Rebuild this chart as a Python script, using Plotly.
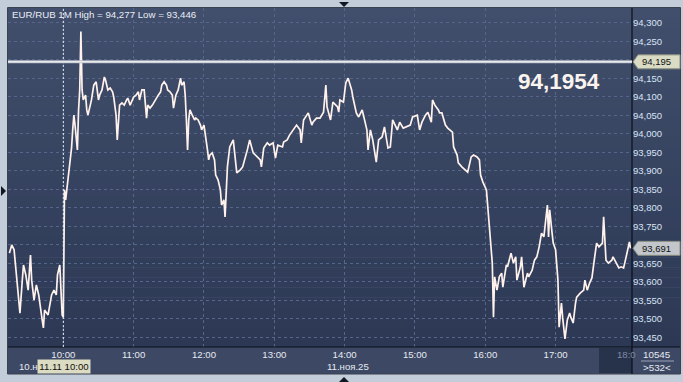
import plotly.graph_objects as go

# ---------------- data ----------------
DAY = "2025-11-11"
times = ["09:14","09:16","09:18","09:20","09:21","09:23","09:25","09:26","09:28","09:30",
         "09:32","09:33","09:35","09:37","09:39","09:40","09:42","09:43","09:44","09:47",
         "09:49","09:50","09:52","09:54","09:55","09:57","09:58","09:59","10:00","10:01",
         "10:02","10:04","10:06","10:07","10:08","10:09","10:10","10:11","10:12","10:13",
         "10:14","10:15","10:16","10:17","10:19","10:20","10:21","10:23","10:24","10:26",
         "10:28","10:30","10:31","10:33","10:35","10:36","10:38","10:40","10:42","10:43",
         "10:45","10:46","10:47","10:48","10:50","10:52","10:54","10:55","10:57","10:59",
         "11:00","11:02","11:04","11:05","11:07","11:09","11:11","11:12","11:14","11:16",
         "11:17","11:19","11:21","11:23","11:24","11:26","11:28","11:29","11:31","11:33",
         "11:34","11:36","11:38","11:40","11:41","11:43","11:44","11:45","11:46","11:47",
         "11:48","11:50","11:52","11:53","11:55","11:57","11:58","12:00","12:02","12:03",
         "12:04","12:05","12:07","12:09","12:10","12:12","12:14","12:15","12:17","12:18",
         "12:20","12:22","12:25","12:26","12:28","12:31","12:33","12:37","12:39","12:42",
         "12:45","12:48","12:49","12:51","12:54","12:56","12:59","13:01","13:03","13:07",
         "13:08","13:11","13:13","13:16","13:19","13:22","13:23","13:25","13:28","13:29",
         "13:32","13:33","13:36","13:39","13:42","13:44","13:45","13:48","13:50","13:54",
         "13:55","13:56","13:59","14:01","14:03","14:05","14:06","14:07","14:10","14:12",
         "14:15","14:17","14:19","14:20","14:22","14:24","14:27","14:29","14:32","14:34",
         "14:37","14:39","14:41","14:45","14:47","14:50","14:53","14:56","14:58","15:02",
         "15:04","15:06","15:09","15:11","15:14","15:15","15:17","15:20","15:21","15:23",
         "15:26","15:28","15:32","15:33","15:36","15:37","15:40","15:43","15:45","15:48",
         "15:50","15:53","15:55","15:56","15:58","16:01","16:02","16:03","16:04","16:06",
         "16:07","16:08","16:10","16:12","16:14","16:15","16:18","16:19","16:22","16:24",
         "16:26","16:27","16:30","16:31","16:33","16:36","16:37","16:40","16:42","16:44",
         "16:46","16:48","16:50","16:53","16:54","16:55","16:57","16:58","17:00","17:02",
         "17:03","17:05","17:06","17:08","17:10","17:12","17:13","17:15","17:17","17:18",
         "17:21","17:24","17:25","17:27","17:29","17:31","17:33","17:35","17:37","17:40",
         "17:41","17:42","17:43","17:45","17:48","17:49","17:52","17:54","17:56","17:58",
         "17:59","18:01","18:03","18:04"]
prices = [93.678,93.700,93.687,93.619,93.578,93.516,93.605,93.646,93.619,93.578,
          93.673,93.605,93.551,93.592,93.565,93.538,93.497,93.476,93.524,93.511,
          93.551,93.565,93.578,93.565,93.619,93.646,93.578,93.511,93.505,93.849,
          93.822,93.876,93.930,93.962,94.011,94.051,94.024,93.984,93.957,94.065,
          94.119,94.277,94.119,94.092,94.105,94.065,94.051,94.078,94.092,94.132,
          94.141,94.092,94.105,94.119,94.154,94.146,94.119,94.124,94.114,94.100,
          94.051,93.984,94.038,94.078,94.084,94.078,94.092,94.097,94.078,94.092,
          94.100,94.105,94.114,94.092,94.119,94.119,94.043,94.078,94.070,94.078,
          94.084,94.092,94.105,94.114,94.132,94.141,94.132,94.119,94.114,94.105,
          94.070,94.105,94.119,94.151,94.132,94.141,94.105,94.038,93.957,94.038,
          94.065,94.051,94.038,94.043,94.038,94.024,94.011,94.024,93.984,93.957,
          93.930,93.943,93.949,93.930,93.889,93.876,93.849,93.808,93.822,93.776,
          93.911,93.965,93.984,93.957,93.895,93.903,93.911,93.957,93.984,93.949,
          93.938,93.930,93.911,93.962,93.976,93.970,93.976,93.935,93.970,93.965,
          93.978,93.984,93.997,94.011,94.024,94.011,93.976,94.038,94.051,94.057,
          94.024,94.032,94.043,94.043,94.059,94.132,94.073,94.038,94.086,94.073,
          94.059,94.092,94.086,94.138,94.151,94.132,94.119,94.100,94.057,94.046,
          94.065,94.038,94.011,93.957,94.011,93.984,93.924,93.984,93.992,94.019,
          93.962,93.965,94.038,94.011,94.032,94.016,94.019,94.024,94.046,94.051,
          94.011,94.032,94.051,94.059,94.032,94.092,94.078,94.065,94.057,94.057,
          94.024,94.016,94.005,93.965,93.943,93.922,93.911,93.903,93.897,93.938,
          93.943,93.938,93.930,93.889,93.870,93.849,93.808,93.781,93.722,93.651,
          93.505,93.614,93.578,93.614,93.624,93.586,93.646,93.641,93.678,93.651,
          93.668,93.605,93.641,93.668,93.586,93.624,93.614,93.632,93.659,93.668,
          93.695,93.732,93.722,93.808,93.722,93.795,93.732,93.705,93.687,93.605,
          93.478,93.543,93.505,93.446,93.497,93.516,93.505,93.489,93.543,93.559,
          93.570,93.578,93.605,93.578,93.597,93.611,93.659,93.705,93.695,93.705,
          93.776,93.722,93.659,93.651,93.659,93.668,93.651,93.638,93.641,93.638,
          93.651,93.678,93.708,93.691]

y_ticks = [93.45, 93.50, 93.55, 93.60, 93.65, 93.70, 93.75, 93.80, 93.85, 93.90,
           93.95, 94.00, 94.05, 94.10, 94.15, 94.20, 94.25, 94.30]
hidden_ticks = [93.70, 94.20]   # covered by price tags in the reference
hour_ticks = ["10:00", "11:00", "12:00", "13:00", "14:00", "15:00", "16:00", "17:00"]
title_text = "EUR/RUB 1M High = 94,277 Low = 93,446"
level_price = 94.195
big_price = "94,1954"
last_price = 93.691
cursor_time = "10:00"

x_vals = [f"{DAY} {t}" for t in times]
y_ticktext = ["" if any(abs(v - h) < 1e-9 for h in hidden_ticks)
              else f"{v:.3f}".replace(".", ",") for v in y_ticks]

# ---------------- geometry helpers (pixels -> paper) ----------------
W, H = 683, 382
L, R, T, B = 8, 632, 8, 347
def px(x):
    return (x - L) / (R - L)
def py(y):
    return (B - y) / (B - T)

FONT = "Liberation Sans"

fig = go.Figure()
fig.add_trace(go.Scatter(x=x_vals, y=prices, mode="lines",
                         line=dict(color="#fff1ec", width=1.7),
                         hoverinfo="skip", showlegend=False))

shapes = []
# dark panel gradient (main + right axis)
top_c = (0x41, 0x4f, 0x6c)
bot_c = (0x2c, 0x38, 0x54)
n = 34
for i in range(n):
    y0 = T + (B - T) * i / n
    y1 = T + (B - T) * (i + 1) / n + 0.6
    f = (i + 0.5) / n
    c = tuple(int(round(top_c[k] + (bot_c[k] - top_c[k]) * f)) for k in range(3))
    shapes.append(dict(type="rect", xref="paper", yref="paper", layer="below",
                       x0=px(L), x1=px(680), y0=py(y1), y1=py(y0),
                       line=dict(width=0), fillcolor="rgb(%d,%d,%d)" % c))
# bottom axis panel
shapes.append(dict(type="rect", xref="paper", yref="paper", layer="below",
                   x0=px(L), x1=px(680), y0=py(374), y1=py(B),
                   line=dict(width=0), fillcolor="#3d4964"))
# dark box at right of time axis
shapes.append(dict(type="rect", xref="paper", yref="paper", layer="below",
                   x0=px(599), x1=px(R), y0=py(373), y1=py(B + 1),
                   line=dict(width=0), fillcolor="#27334b"))
# panel border
shapes.append(dict(type="rect", xref="paper", yref="paper", layer="above",
                   x0=px(7.5), x1=px(680.5), y0=py(374), y1=py(7.5),
                   line=dict(width=1, color="#3a4150"), fillcolor="rgba(0,0,0,0)"))
# black separators
shapes.append(dict(type="line", xref="paper", yref="paper", layer="above",
                   x0=px(L), x1=px(680), y0=py(B), y1=py(B),
                   line=dict(width=1.2, color="#0b0f18")))
shapes.append(dict(type="line", xref="paper", yref="paper", layer="above",
                   x0=px(R), x1=px(R), y0=py(374), y1=py(T),
                   line=dict(width=1.2, color="#0b0f18")))
# separator in bottom-right box
shapes.append(dict(type="line", xref="paper", yref="paper", layer="above",
                   x0=px(641), x1=px(674), y0=py(361), y1=py(361),
                   line=dict(width=1, color="#9aa4b8")))
# vertical cursor at 10:00
shapes.append(dict(type="line", xref="x", yref="paper", layer="above",
                   x0=f"{DAY} {cursor_time}", x1=f"{DAY} {cursor_time}", y0=0, y1=1,
                   line=dict(width=1, color="#e8ecf4", dash="2px,2px")))
# horizontal level line
shapes.append(dict(type="line", xref="paper", yref="y", layer="above",
                   x0=0, x1=1, y0=level_price, y1=level_price,
                   line=dict(width=3, color="#b9bec8")))
shapes.append(dict(type="line", xref="paper", yref="y", layer="above",
                   x0=0, x1=1, y0=level_price, y1=level_price,
                   line=dict(width=1, color="#ffffff")))

# price tag boxes on right axis (pentagon pointing left)
def tag(yval, color):
    hh = 7 * 0.05 / 18.5
    x_tip, x_a, x_b = px(633), px(638), px(680)
    return dict(type="path", xref="paper", yref="y", layer="above",
                path=f"M {x_tip},{yval} L {x_a},{yval + hh} L {x_b},{yval + hh} "
                     f"L {x_b},{yval - hh} L {x_a},{yval - hh} Z",
                fillcolor=color, line=dict(width=1, color="#8a8e80"))
shapes.append(tag(level_price, "#d9dbc4"))
shapes.append(tag(last_price, "#c3c7cc"))

# triangles on the frame
shapes.append(dict(type="path", xref="paper", yref="paper", layer="above",
                   path=f"M {px(339)},{py(2)} L {px(349)},{py(2)} L {px(344)},{py(7)} Z",
                   fillcolor="#111722", line=dict(width=0)))
shapes.append(dict(type="path", xref="paper", yref="paper", layer="above",
                   path=f"M {px(339)},{py(382)} L {px(349)},{py(382)} L {px(344)},{py(377)} Z",
                   fillcolor="#111722", line=dict(width=0)))
shapes.append(dict(type="path", xref="paper", yref="paper", layer="above",
                   path=f"M {px(1)},{py(186)} L {px(1)},{py(196)} L {px(6)},{py(191)} Z",
                   fillcolor="#111722", line=dict(width=0)))

annotations = [
    dict(text=title_text, xref="paper", yref="paper", x=px(10), y=py(15),
         xanchor="left", yanchor="middle", showarrow=False,
         font=dict(family=FONT, size=9.7, color="#e9edf5")),
    dict(text=f"<b>{big_price}</b>", xref="paper", yref="paper", x=px(559), y=py(81),
         xanchor="center", yanchor="middle", showarrow=False,
         font=dict(family=FONT, size=22.5, color="#fbf3ee")),
    dict(text=f"{level_price:.3f}".replace(".", ","), xref="paper", yref="y",
         x=px(640), y=level_price, xanchor="left", yanchor="middle", showarrow=False,
         font=dict(family=FONT, size=9.5, color="#111111")),
    dict(text=f"{last_price:.3f}".replace(".", ","), xref="paper", yref="y",
         x=px(640), y=last_price, xanchor="left", yanchor="middle", showarrow=False,
         font=dict(family=FONT, size=9.5, color="#111111")),
    dict(text="10.н", xref="paper", yref="paper", x=px(17), y=py(366),
         xanchor="left", yanchor="middle", showarrow=False,
         font=dict(family=FONT, size=9.6, color="#e6eaf2")),
    dict(text="11.11 10:00", xref="paper", yref="paper", x=px(63.5), y=py(366),
         xanchor="center", yanchor="middle", showarrow=False,
         bgcolor="#dcdcc2", borderpad=1, width=50,
         font=dict(family=FONT, size=9.6, color="#111111")),
    dict(text="11.ноя.25", xref="paper", yref="paper", x=px(348), y=py(366),
         xanchor="center", yanchor="middle", showarrow=False,
         font=dict(family=FONT, size=9.6, color="#e6eaf2")),
    dict(text="18:0", xref="paper", yref="paper", x=px(615), y=py(355),
         xanchor="left", yanchor="middle", showarrow=False,
         font=dict(family=FONT, size=9.6, color="#7e8aa2")),
    dict(text="10545", xref="paper", yref="paper", x=px(657), y=py(354),
         xanchor="center", yanchor="middle", showarrow=False,
         font=dict(family=FONT, size=9.8, color="#e6eaf2")),
    dict(text="&gt;532&lt;", xref="paper", yref="paper", x=px(657), y=py(367),
         xanchor="center", yanchor="middle", showarrow=False,
         font=dict(family=FONT, size=9.8, color="#e6eaf2")),
]

fig.update_layout(
    width=W, height=H,
    margin=dict(l=L, r=W - R, t=T, b=H - B, pad=0),
    paper_bgcolor="#c3ccd9",
    plot_bgcolor="rgba(0,0,0,0)",
    separators=",.",
    showlegend=False,
    shapes=shapes,
    annotations=annotations,
    xaxis=dict(
        type="date",
        range=[f"{DAY} 09:12:48", f"{DAY} 18:05:12"],
        tickvals=[f"{DAY} {t}" for t in hour_ticks],
        ticktext=hour_ticks,
        showgrid=True, gridcolor="#56668a", griddash="3px,3px", gridwidth=1,
        zeroline=False, showline=False, ticks="",
        tickfont=dict(family=FONT, size=9.6, color="#e6eaf2"),
        fixedrange=True,
    ),
    yaxis=dict(
        side="right",
        range=[93.4243, 94.3405],
        tickvals=y_ticks,
        ticktext=y_ticktext,
        showgrid=True, gridcolor="#56668a", griddash="3px,3px", gridwidth=1,
        zeroline=False, showline=False, ticks="",
        tickfont=dict(family=FONT, size=9.5, color="#d8e3f6"),
        fixedrange=True,
    ),
)

fig.write_html("out.html")
